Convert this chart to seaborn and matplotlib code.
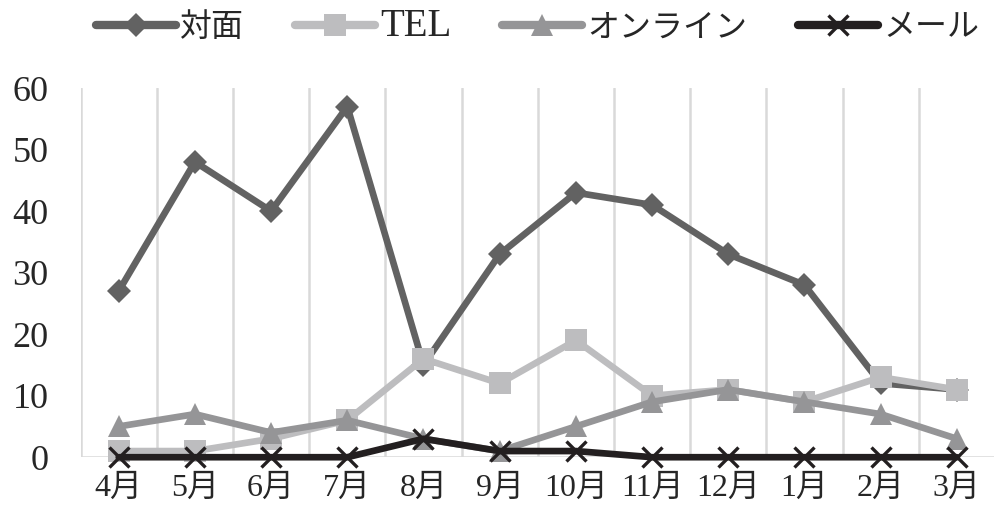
import pandas as pd
import seaborn as sns
import matplotlib.pyplot as plt

# data
months = ['4月', '5月', '6月', '7月', '8月', '9月', '10月', '11月', '12月', '1月', '2月', '3月']
taimen = [27, 48, 40, 57, 15, 33, 43, 41, 33, 28, 12, 11]
tel = [1, 1, 3, 6, 16, 12, 19, 10, 11, 9, 13, 11]
online = [5, 7, 4, 6, 3, 1, 5, 9, 11, 9, 7, 3]
mail = [0, 0, 0, 0, 3, 1, 1, 0, 0, 0, 0, 0]
series_names = ['対面', 'TEL', 'オンライン', 'メール']

sns.set_style('white')
plt.rcParams['font.family'] = ['Liberation Serif', 'Noto Sans CJK JP', 'DejaVu Sans']

df = pd.DataFrame({
    'month': months * 4,
    'x': list(range(len(months))) * 4,
    'value': taimen + tel + online + mail,
    'series': [s for s in series_names for _ in months],
})

palette = {'対面': '#626262', 'TEL': '#bdbdbf', 'オンライン': '#959597', 'メール': '#231f20'}
markers = {'対面': 'D', 'TEL': 's', 'オンライン': '^', 'メール': 'x'}
msizes = {'対面': 12, 'TEL': 16, 'オンライン': 16, 'メール': 15}

fig = plt.figure(figsize=(9.95, 5.12), dpi=100)
ax = fig.add_axes([0.081, 0.107, 0.919, 0.721])

# vertical gridlines between categories
for b in range(len(months) + 1):
    ax.axvline(b - 0.5, color='#d9d9d9', lw=1.8, zorder=0)
ax.axhline(0, color='#d9d9d9', lw=1.8, zorder=0)

for name in series_names:
    sub = df[df.series == name]
    sns.lineplot(data=sub, x='x', y='value', ax=ax, color=palette[name], lw=4.8,
                 marker=markers[name], markersize=msizes[name],
                 markeredgewidth=2.4 if name == 'メール' else 0,
                 markeredgecolor=palette[name], clip_on=False, label=name, legend=False)

ax.set_xlim(-0.5, len(months) - 0.5)
ax.set_ylim(0, 60)
ax.set_yticks(range(0, 61, 10))
ax.set_yticklabels([str(v) for v in range(0, 61, 10)], fontsize=26)
ax.set_xticks(range(len(months)))
ax.set_xticklabels(months, fontsize=23)
ax.tick_params(axis='x', length=0, pad=12)
ax.tick_params(axis='y', length=0, pad=23)
ax.set_xlabel('')
ax.set_ylabel('')
for sp in ax.spines.values():
    sp.set_visible(False)

h, l = ax.get_legend_handles_labels()
leg = fig.legend(h, l, loc='upper center', bbox_to_anchor=(0.54, 1.04), ncol=4, frameon=False,
                 fontsize=23, handlelength=2.5, columnspacing=1.6, handletextpad=0.15)
for line in leg.get_lines():
    line.set_linewidth(6)
leg.get_texts()[1].set_fontsize(28)

fig.savefig('out.png', dpi=100)
